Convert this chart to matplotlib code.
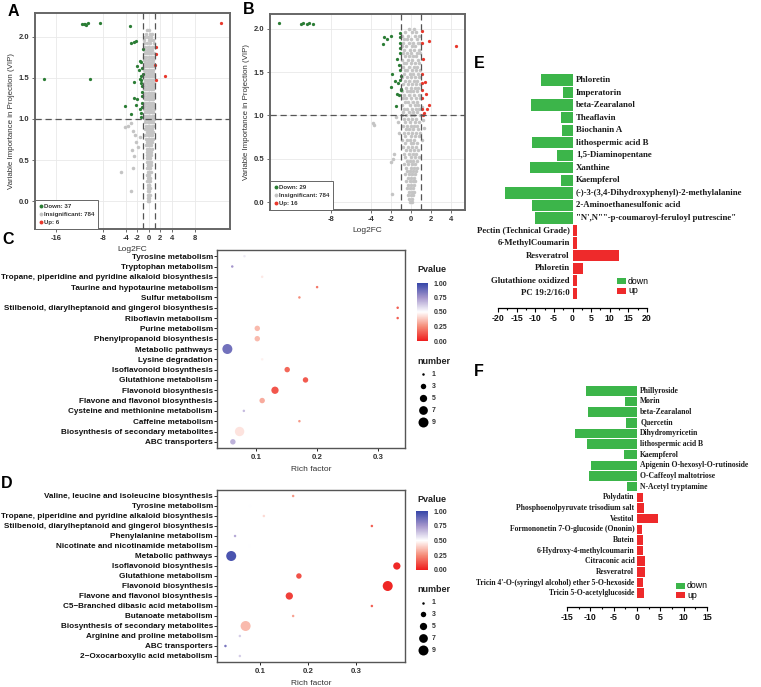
import matplotlib
matplotlib.use("Agg")
import matplotlib.pyplot as plt
import numpy as np
from matplotlib.colors import LinearSegmentedColormap, Normalize
from matplotlib.cm import ScalarMappable
from matplotlib.lines import Line2D
from matplotlib.patches import Rectangle

W, H = 761, 687
plt.rcParams['font.family'] = ['Liberation Sans', 'DejaVu Sans']
plt.rcParams['font.weight'] = 'bold'
plt.rcParams['axes.unicode_minus'] = False

# ---------------- volcano A ----------------
a_counts = (37, 784, 6)
a_down_x = [-11.6, -11.2, -10.9, -10.6, -11.0, -8.5, -3.2, -3.0, -2.5, -2.2,
            -1.5, -1.3, -2.0, -1.7, -1.4, -1.45, -2.5, -18.1, -10.2, -2.6,
            -2.0, -4.2, -2.3, -1.5, -3.0, -1.3, -1.4, -1.15, -1.3, -1.2,
            -1.25, -1.05, -1.1, -1.05, -1.2, -1.1, -1.35]
a_down_y = [2.16, 2.16, 2.14, 2.17, 2.15, 2.17, 2.13, 1.93, 1.94, 1.95,
            1.71, 1.69, 1.64, 1.59, 1.52, 1.49, 1.45, 1.49, 1.49, 1.26,
            1.24, 1.16, 1.17, 1.12, 1.06, 1.07, 1.02, 1.15, 1.44, 1.40,
            1.33, 1.85, 1.62, 1.55, 1.28, 1.20, 1.48]
a_up_x = [1.25, 1.2, 1.05, 1.2, 2.85, 12.5]
a_up_y = [1.87, 1.79, 1.66, 1.47, 1.52, 2.17]
# insignificant cloud: (VIP, [log2FC values])
a_gray_rows = [
    (2.08, [-0.3, 0.1]), (2.04, [-0.5, 0.2, 0.5]), (2.00, [-0.1, 0.4, -0.7]),
    (1.96, [-0.8, 0.0, 0.7, 0.3]), (1.92, [-0.4, 0.2, 0.9, -0.9]),
    (1.88, [-0.6, 0.0, 0.5, 0.8, -0.2]), (1.84, [-0.9, -0.3, 0.3, 0.6, 0.1]),
    (1.80, [-0.7, -0.1, 0.4, 0.9, 0.2, -0.4]), (1.76, [-0.8, -0.5, 0.0, 0.6, 0.3, 0.8]),
    (1.72, [-0.9, -0.2, 0.1, 0.5, 0.7, -0.6]), (1.68, [-0.7, -0.4, 0.0, 0.3, 0.8, 0.5]),
    (1.64, [-0.8, -0.1, 0.2, 0.6, 0.9, -0.5]), (1.60, [-0.6, -0.3, 0.1, 0.4, 0.7, -0.9]),
    (1.56, [-0.7, -0.2, 0.0, 0.5, 0.8, 0.3]), (1.52, [-0.9, -0.5, 0.2, 0.6, -0.1, 0.9]),
    (1.48, [-0.6, -0.3, 0.1, 0.4, 0.7, 0.0]), (1.44, [-0.8, -0.4, 0.3, 0.6, 0.9, -0.1]),
    (1.40, [-0.7, -0.2, 0.0, 0.5, 0.8, 0.2]), (1.36, [-0.9, -0.5, 0.1, 0.4, 0.7, -0.3]),
    (1.32, [-0.6, -0.1, 0.3, 0.6, 0.9, 0.0]), (1.28, [-0.8, -0.4, 0.2, 0.5, 0.8, -0.2]),
    (1.24, [-0.7, -0.3, 0.0, 0.4, 0.7, 0.1]), (1.20, [-0.9, -0.5, 0.2, 0.6, -0.1, 0.8]),
    (1.16, [-0.6, -0.2, 0.1, 0.3, 0.7, 0.5]), (1.12, [-0.8, -0.4, 0.0, 0.4, 0.9, -0.1]),
    (1.08, [-0.7, -0.3, 0.2, 0.6, 0.8, 0.0]), (1.04, [-0.5, -0.1, 0.1, 0.5, 0.7, -0.8]),
    (1.00, [-0.6, -0.3, 0.0, 0.3, 0.6, 0.9]), (0.96, [-0.7, -0.2, 0.2, 0.4, 0.8]),
    (0.92, [-0.5, -0.1, 0.1, 0.5, 0.7]), (0.88, [-0.6, -0.3, 0.0, 0.3, 0.6]),
    (0.84, [-0.4, -0.1, 0.2, 0.5, 0.8]), (0.80, [-0.6, -0.2, 0.0, 0.3, 0.6]),
    (0.76, [-0.5, -0.1, 0.1, 0.4, 0.7]), (0.72, [-0.4, -0.2, 0.0, 0.3, 0.5]),
    (0.68, [-0.5, -0.1, 0.2, 0.4]), (0.64, [-0.3, 0.0, 0.1, 0.5]),
    (0.60, [-0.4, -0.1, 0.2, 0.3]), (0.56, [-0.3, 0.0, 0.1, 0.4]),
    (0.52, [-0.4, -0.2, 0.1, 0.2]), (0.48, [-0.3, 0.0, 0.2, 0.3]),
    (0.44, [-0.2, -0.1, 0.1, 0.3]), (0.40, [-0.3, 0.0, 0.2]), (0.36, [-0.2, 0.1, 0.3]),
    (0.32, [-0.3, -0.1, 0.1]), (0.28, [-0.2, 0.0, 0.2]), (0.24, [-0.3, 0.1, 0.2]),
    (0.20, [-0.2, 0.0, 0.1]), (0.16, [-0.1, 0.0, 0.2]), (0.12, [-0.2, 0.1]),
    (0.08, [-0.1, 0.0, 0.2]), (0.04, [-0.2, 0.1]), (0.00, [0.0, -0.1]),
]
a_gray_extra_x = [-4.2, -3.6, -3.0, -2.7, -2.4, -2.9, -2.6, -2.8, -3.0, -2.2, -1.9, -1.6, -4.8]
a_gray_extra_y = [0.90, 0.92, 0.95, 0.85, 0.80, 0.62, 0.55, 0.40, 0.12, 0.72, 0.66, 0.78, 0.35]
a_xticks = [-16, -8, -4, -2, 0, 2, 4, 8]

# ---------------- volcano B ----------------
b_counts = (29, 784, 16)
b_down_x = [-13.2, -11.0, -10.8, -10.4, -10.2, -9.8, -2.7, -2.4, -2.0, -2.8,
            -1.1, -1.1, -1.1, -1.1, -1.4, -1.1, -1.9, -1.6, -1.3, -1.1,
            -2.0, -1.05, -1.05, -1.4, -1.2, -1.5, -1.1, -1.2, -1.05]
b_down_y = [2.07, 2.06, 2.07, 2.06, 2.07, 2.06, 1.90, 1.88, 1.92, 1.82,
            1.95, 1.91, 1.83, 1.78, 1.65, 1.52, 1.48, 1.40, 1.38, 1.41,
            1.33, 1.31, 1.29, 1.25, 1.24, 1.11, 1.72, 1.58, 1.45]
b_up_x = [1.1, 1.1, 1.8, 4.5, 1.2, 1.1, 1.4, 1.1, 1.5, 1.1, 1.1, 1.6, 1.8, 1.3, 1.2, 1.1]
b_up_y = [1.97, 1.83, 1.86, 1.80, 1.65, 1.48, 1.39, 1.29, 1.25, 1.20, 1.08, 1.08, 1.12, 1.03, 1.01, 1.37]
b_gray_rows = [
    (2.00, [-0.2, 0.3]), (1.96, [-0.6, 0.1, 0.5]), (1.92, [-0.9, -0.3, 0.4, 0.8]),
    (1.88, [-0.7, 0.0, 0.6, -0.4]), (1.84, [-0.8, -0.2, 0.2, 0.7, 0.9]),
    (1.80, [-0.5, 0.1, 0.4, -0.9]), (1.76, [-0.7, -0.1, 0.3, 0.8]),
    (1.72, [-0.4, 0.0, 0.6, 0.9, -0.8]), (1.68, [-0.6, -0.2, 0.2, 0.5]),
    (1.64, [-0.9, -0.3, 0.1, 0.7]), (1.60, [-0.5, 0.0, 0.4, 0.8, -0.7]),
    (1.56, [-0.8, -0.2, 0.3, 0.6]), (1.52, [-0.4, 0.1, 0.5, 0.9, -0.6]),
    (1.48, [-0.7, -0.1, 0.2, 0.7]), (1.44, [-0.9, -0.4, 0.0, 0.4, 0.8]),
    (1.40, [-0.6, -0.2, 0.3, 0.6]), (1.36, [-0.8, -0.3, 0.1, 0.5, 0.9]),
    (1.32, [-0.5, 0.0, 0.4, 0.7]), (1.28, [-0.9, -0.4, -0.1, 0.2, 0.6]),
    (1.24, [-0.7, -0.2, 0.3, 0.8]), (1.20, [-0.5, 0.0, 0.5, 0.9, -0.8]),
    (1.16, [-0.6, -0.3, 0.2, 0.6]), (1.12, [-0.9, -0.1, 0.4, 0.7]),
    (1.08, [-0.4, 0.1, 0.5, 0.8, -0.7]), (1.04, [-0.8, -0.2, 0.2, 0.6]),
    (1.00, [-0.5, 0.0, 0.3, 0.9, -0.9]), (0.96, [-0.7, -0.3, 0.1, 0.5]),
    (0.92, [-0.6, -0.1, 0.4, 0.8]), (0.88, [-0.8, -0.4, 0.0, 0.3, 0.6]),
    (0.84, [-0.5, -0.2, 0.2, 0.7]), (0.80, [-0.7, -0.3, 0.1, 0.5, 0.9]),
    (0.76, [-0.6, 0.0, 0.4, 0.8]), (0.72, [-0.9, -0.4, -0.1, 0.3]),
    (0.68, [-0.6, 0.0, 0.2, 0.6]), (0.64, [-0.8, -0.3, 0.1, 0.5]),
    (0.60, [-0.5, -0.1, 0.3, 0.7]), (0.56, [-0.7, -0.2, 0.2, 0.5]),
    (0.52, [-0.6, 0.0, 0.4, 0.8]), (0.48, [-0.4, -0.1, 0.2, 0.6]),
    (0.44, [-0.7, -0.3, 0.1, 0.4]), (0.40, [-0.5, 0.0, 0.3, 0.6]),
    (0.36, [-0.4, -0.1, 0.2, 0.5]), (0.32, [-0.6, -0.2, 0.1, 0.4]),
    (0.28, [-0.3, 0.0, 0.3]), (0.24, [-0.5, -0.1, 0.2, 0.4]), (0.20, [-0.3, 0.0, 0.3]),
    (0.16, [-0.4, -0.1, 0.2]), (0.12, [-0.2, 0.1, 0.3]), (0.08, [-0.3, 0.0, 0.2]),
    (0.04, [-0.2, 0.1]), (0.00, [-0.1, 0.1]),
]
b_gray_extra_x = [-3.8, -3.7, -1.8, -2.0, -1.7, -1.9, 1.2, 1.3, 1.1, -1.5, -1.3, 1.1, -1.2]
b_gray_extra_y = [0.91, 0.89, 0.50, 0.46, 0.55, 0.09, 0.95, 0.85, 0.72, 0.98, 0.93, 1.10, 0.80]
b_xticks = [-8, -4, -2, 0, 2, 4]

# ---------------- KEGG bubble C ----------------
c_pathways = ['Tyrosine metabolism', 'Tryptophan metabolism',
              'Tropane, piperidine and pyridine alkaloid biosynthesis',
              'Taurine and hypotaurine metabolism', 'Sulfur metabolism',
              'Stilbenoid, diarylheptanoid and gingerol biosynthesis',
              'Riboflavin metabolism', 'Purine metabolism', 'Phenylpropanoid biosynthesis',
              'Metabolic pathways', 'Lysine degradation', 'Isoflavonoid biosynthesis',
              'Glutathione metabolism', 'Flavonoid biosynthesis',
              'Flavone and flavonol biosynthesis', 'Cysteine and methionine metabolism',
              'Caffeine metabolism', 'Biosynthesis of secondary metabolites', 'ABC transporters']
c_rich = [0.081, 0.061, 0.110, 0.200, 0.171, 0.332, 0.332, 0.102, 0.102, 0.053,
          0.110, 0.151, 0.181, 0.131, 0.110, 0.080, 0.171, 0.073, 0.062]
c_pval = [0.55, 0.75, 0.45, 0.20, 0.25, 0.15, 0.15, 0.35, 0.35, 0.86,
          0.47, 0.17, 0.14, 0.13, 0.32, 0.66, 0.28, 0.44, 0.68]
c_num = [1, 1, 1, 1, 1, 1, 1, 3, 3, 9, 1, 3, 3, 5, 3, 1, 1, 8, 3]

# ---------------- KEGG bubble D ----------------
d_pathways = ['Valine, leucine and isoleucine biosynthesis', 'Tyrosine metabolism',
              'Tropane, piperidine and pyridine alkaloid biosynthesis',
              'Stilbenoid, diarylheptanoid and gingerol biosynthesis',
              'Phenylalanine metabolism', 'Nicotinate and nicotinamide metabolism',
              'Metabolic pathways', 'Isoflavonoid biosynthesis', 'Glutathione metabolism',
              'Flavonoid biosynthesis', 'Flavone and flavonol biosynthesis',
              'C5\u2212Branched dibasic acid metabolism', 'Butanoate metabolism',
              'Biosynthesis of secondary metabolites', 'Arginine and proline metabolism',
              'ABC transporters', '2\u2212Oxocarboxylic acid metabolism']
d_rich = [0.169, 0.079, 0.108, 0.333, 0.048, 0.078, 0.040, 0.385, 0.181, 0.366,
          0.161, 0.333, 0.169, 0.070, 0.058, 0.028, 0.058]
d_pval = [0.28, 0.50, 0.42, 0.15, 0.70, 0.50, 0.95, 0.03, 0.12, 0.02,
          0.08, 0.15, 0.30, 0.35, 0.62, 0.85, 0.62]
d_num = [1, 1, 1, 1, 1, 1, 9, 5, 3, 9, 5, 1, 1, 9, 1, 1, 1]

size_levels = [1, 3, 5, 7, 9]
pval_ticks = [0.0, 0.25, 0.5, 0.75, 1.0]

# ---------------- fold change bars E ----------------
e_names = ['Phloretin', 'Imperatorin', 'beta-Zearalanol', 'Theaflavin', 'Biochanin A',
           'lithospermic acid B', '1,5-Diaminopentane', 'Xanthine', 'Kaempferol',
           '(-)-3-(3,4-Dihydroxyphenyl)-2-methylalanine', '2-Aminoethanesulfonic acid',
           '"N\',N""-p-coumaroyl-feruloyl putrescine"', 'Pectin (Technical Grade)',
           '6-MethylCoumarin', 'Resveratrol', 'Phloretin', 'Glutathione oxidized',
           'PC 19:2/16:0']
e_vals = [-8.5, -2.5, -11.2, -3.0, -2.9, -10.8, -4.2, -11.5, -3.1, -18.2, -10.8, -10.2,
          1.2, 1.1, 12.4, 2.9, 1.2, 1.2]

# ---------------- fold change bars F ----------------
f_names = ['Phillyroside', 'Morin', 'beta-Zearalanol', 'Quercetin', 'Dihydromyricetin',
           'lithospermic acid B', 'Kaempferol', 'Apigenin O-hexosyl-O-rutinoside',
           'O-Caffeoyl maltotriose', 'N-Acetyl tryptamine', 'Polydatin',
           'Phosphoenolpyruvate trisodium salt', 'Vestitol',
           'Formononetin 7-O-glucoside (Ononin)', 'Butein', '6-Hydroxy-4-methylcoumarin',
           'Citraconic acid', 'Resveratrol',
           "Tricin 4'-O-(syringyl alcohol) ether 5-O-hexoside", 'Tricin 5-O-acetylglucoside']
f_vals = [-11.0, -2.65, -10.5, -2.4, -13.3, -10.8, -2.8, -9.9, -10.3, -2.1,
          1.2, 1.4, 4.5, 1.15, 1.3, 1.35, 1.7, 1.8, 1.3, 1.5]

GREEN_DOT = '#2b7d35'
RED_DOT = '#e8382c'
GRAY_DOT = '#c4c4c4'
BAR_GREEN = '#3cb54a'
BAR_RED = '#ee2a2b'
pcmap = LinearSegmentedColormap.from_list(
    'pv', [(0, '#ee1d1d'), (0.25, '#f58c78'), (0.5, '#ffffff'), (0.75, '#a596cc'), (1.0, '#3545a8')])

fig = plt.figure(figsize=(W / 100, H / 100), dpi=100)


def px_axes(l, t, r, b):
    return fig.add_axes([l / W, 1 - b / H, (r - l) / W, (b - t) / H])


def bubble_size(n):
    d_px = np.sqrt(6.25 + (n - 1) * 11.7)
    return (d_px * 0.72) ** 2


def draw_volcano(ax, rows, ex_x, ex_y, dx, dy, ux, uy, counts, xlim, ylim, xticks):
    gx = [x for _, xs in rows for x in xs] + ex_x
    gy = [v for v, xs in rows for _ in xs] + ex_y
    ax.scatter(gx, gy, s=6.5, color=GRAY_DOT, linewidths=0, zorder=2)
    ax.scatter(dx, dy, s=5.5, color=GREEN_DOT, linewidths=0, zorder=3)
    ax.scatter(ux, uy, s=5.5, color=RED_DOT, linewidths=0, zorder=3)
    for xv in (-1, 1):
        ax.axvline(xv, color='#555555', ls=(0, (5, 3)), lw=0.9, zorder=4)
    ax.axhline(1, color='#555555', ls=(0, (5, 3)), lw=0.9, zorder=4)
    ax.set_xlim(xlim)
    ax.set_ylim(ylim)
    ax.set_xticks(xticks)
    ax.set_yticks([0, 0.5, 1.0, 1.5, 2.0])
    ax.set_yticklabels(['0.0', '0.5', '1.0', '1.5', '2.0'])
    ax.grid(color='#e9e9e9', lw=0.6)
    ax.set_axisbelow(True)
    for s in ax.spines.values():
        s.set_color('#666666')
        s.set_linewidth(1.4)
    ax.tick_params(labelsize=5.5, length=2, width=0.6, color='#555555', labelcolor='#333333', pad=2)
    ax.set_xlabel('Log2FC', fontsize=6, color='#333333', labelpad=3)
    ax.set_ylabel('Variable Importance in Projection (VIP)', fontsize=5.7, color='#333333', labelpad=3)
    handles = [Line2D([], [], marker='o', ls='', ms=1.8, color=c) for c in (GREEN_DOT, GRAY_DOT, RED_DOT)]
    labels = [f'Down: {counts[0]}', f'Insignificant: {counts[1]}', f'Up: {counts[2]}']
    leg = ax.legend(handles, labels, loc='lower left', borderaxespad=0, fontsize=4.4,
                    frameon=True, fancybox=False, edgecolor='#666666', framealpha=1,
                    handletextpad=0.1, handlelength=0.8, labelspacing=0.45, borderpad=0.6)
    leg.get_frame().set_linewidth(0.7)
    leg.set_zorder(6)
    for t in leg.get_texts():
        t.set_color('#333333')


def draw_bubble(ax, cats, rich, pval, num, xlim):
    y = np.arange(len(cats))
    ax.scatter(rich, y, s=[bubble_size(n) for n in num], c=pval, cmap=pcmap,
               vmin=0, vmax=1, linewidths=0, zorder=3)
    ax.set_yticks(y)
    ax.set_yticklabels(cats)
    ax.set_ylim(len(cats) - 0.4, -0.6)
    ax.set_xlim(xlim)
    ax.set_xticks([0.1, 0.2, 0.3])
    ax.set_xticklabels(['0.1', '0.2', '0.3'])
    for s in ax.spines.values():
        s.set_color('#555555')
        s.set_linewidth(1.0)
    ax.tick_params(axis='y', labelsize=5.9, length=2, width=0.6, pad=1, labelcolor='#111111')
    ax.tick_params(axis='x', labelsize=5.7, length=2, width=0.6, pad=2, labelcolor='#333333')
    ax.set_xlabel('Rich factor', fontsize=6, color='#333333', labelpad=4)


def draw_legends(cb_box, title_y, num_title_y, num_ys):
    cax = px_axes(*cb_box)
    cb = fig.colorbar(ScalarMappable(norm=Normalize(0, 1), cmap=pcmap), cax=cax)
    cb.set_ticks(pval_ticks)
    cb.ax.set_yticklabels([f'{v:.2f}' for v in pval_ticks])
    cb.outline.set_visible(False)
    cb.ax.tick_params(length=2, width=0.6, color='white', labelsize=5, pad=2, labelcolor='#333333')
    ov.text(417, title_y, 'Pvalue', fontsize=6.5, va='center', ha='left', color='#222222')
    ov.text(417, num_title_y, 'number', fontsize=6.5, va='center', ha='left', color='#222222')
    for n, yy in zip(size_levels, num_ys):
        ov.scatter([423], [yy], s=bubble_size(n), color='black', linewidths=0)
        ov.text(432, yy, str(n), fontsize=5, va='center', ha='left', color='#333333')


def draw_bars(ax, names, vals, xlim, major, minor, fs, extra):
    y = np.arange(len(names))
    colors = [BAR_GREEN if v < 0 else BAR_RED for v in vals]
    ax.barh(y, vals, height=0.9, color=colors, edgecolor='none')
    for yi, name, v in zip(y, names, vals):
        if v < 0:
            ax.annotate(name, (0, yi), xytext=(2.4, 0), textcoords='offset points',
                        ha='left', va='center', fontsize=fs, family='Liberation Serif',
                        weight='bold', color='#1a1a1a')
        else:
            ax.annotate(name, (0, yi), xytext=(-1.9, 0), textcoords='offset points',
                        ha='right', va='center', fontsize=fs, family='Liberation Serif',
                        weight='bold', color='#1a1a1a')
    ax.set_xlim(xlim)
    ax.set_ylim(len(names) - 1 + extra, -0.5)
    for s in ('top', 'right', 'left'):
        ax.spines[s].set_visible(False)
    ax.spines['bottom'].set_linewidth(0.9)
    ax.set_yticks([])
    ax.set_xticks(major)
    ax.set_xticks(minor, minor=True)
    ax.tick_params(axis='x', labelsize=6.3, length=3, width=0.8, pad=1.5, labelcolor='#111111')
    ax.tick_params(axis='x', which='minor', length=1.6, width=0.8)
    ax.patch.set_alpha(0)


# overlay for panel letters and legend keys (pixel coordinates)
ov = fig.add_axes([0, 0, 1, 1], zorder=10)
ov.set_xlim(0, W)
ov.set_ylim(H, 0)
ov.axis('off')
ov.patch.set_alpha(0)

axA = px_axes(35, 13, 230, 229)
draw_volcano(axA, a_gray_rows, a_gray_extra_x, a_gray_extra_y, a_down_x, a_down_y,
             a_up_x, a_up_y, a_counts, (-19.7, 14.05), (-0.34, 2.29), a_xticks)

axB = px_axes(270, 14, 465, 210)
draw_volcano(axB, b_gray_rows, b_gray_extra_x, b_gray_extra_y, b_down_x, b_down_y,
             b_up_x, b_up_y, b_counts, (-14.1, 5.4), (-0.09, 2.17), b_xticks)

axC = px_axes(217, 250, 405, 448)
draw_bubble(axC, c_pathways, c_rich, c_pval, c_num, (0.036, 0.344))
draw_legends((417, 283, 428, 341), 269, 361, [374, 386, 398, 410, 422])

axD = px_axes(217, 490, 405, 662)
draw_bubble(axD, d_pathways, d_rich, d_pval, d_num, (0.0104, 0.402))
draw_legends((416, 511, 428, 570), 499, 589, [603, 614, 626, 638, 650])

axE = px_axes(498, 73.7, 647, 308)
draw_bars(axE, e_names, e_vals, (-20, 20), np.arange(-20, 21, 5), np.arange(-17.5, 20, 5), 6.3, 1.17)

axF = px_axes(567, 385.4, 707, 606.7)
draw_bars(axF, f_names, f_vals, (-15, 15), np.arange(-15, 16, 5), np.arange(-12.5, 15, 5), 5.5, 1.26)

# legends for E and F
for (lx, ly_down, ly_up) in ((617, 281, 290.5), (676, 585.5, 595)):
    ov.add_patch(Rectangle((lx, ly_down - 3), 9, 6, color=BAR_GREEN, lw=0))
    ov.add_patch(Rectangle((lx, ly_up - 3), 9, 6, color=BAR_RED, lw=0))
    ov.text(lx + 11, ly_down, 'down', fontsize=6.3, weight='normal', va='center', ha='left')
    ov.text(lx + 11, ly_up, 'up', fontsize=6.3, weight='normal', va='center', ha='left')

for letter, x, y in (('A', 13, 12), ('B', 249, 10), ('C', 8, 239), ('D', 7, 484),
                     ('E', 479, 63), ('F', 479, 372)):
    ov.text(x, y, letter, fontsize=11.5, ha='center', va='center', color='black')

fig.savefig('out.png', dpi=100)
